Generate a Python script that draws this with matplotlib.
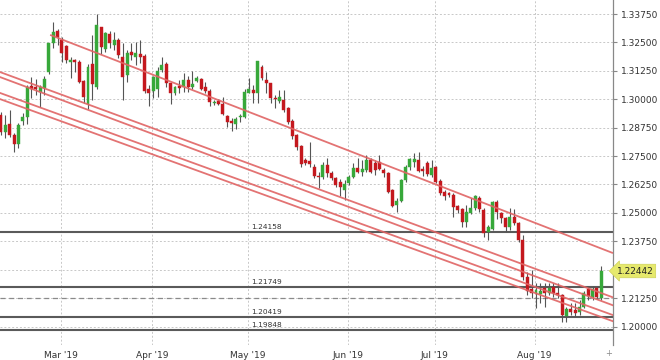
import numpy as np
import pandas as pd
import matplotlib
matplotlib.use("Agg")
import matplotlib.pyplot as plt

# daily GBP/USD candles, 11 Feb - 22 Aug 2019
dates = pd.bdate_range("2019-02-11", "2019-08-22")

opens = [1.2931, 1.2856, 1.2891, 1.2843, 1.2803, 1.2904, 1.2922, 1.3058, 1.3054, 1.3032,
         1.3049, 1.3120, 1.3247, 1.3300, 1.3261, 1.3234, 1.3164, 1.3173, 1.3164, 1.3080,
         1.2979, 1.3155, 1.3054, 1.3318, 1.3221, 1.3287, 1.3239, 1.3261, 1.3186, 1.3107,
         1.3208, 1.3186, 1.3199, 1.3190, 1.3045, 1.3036, 1.3045, 1.3129, 1.3155, 1.3071,
         1.3027, 1.3058, 1.3054, 1.3085, 1.3054, 1.3080, 1.3089, 1.3054, 1.3036, 1.2983,
         1.2992, 1.2979, 1.2926, 1.2904, 1.2891, 1.2922, 1.2922, 1.3027, 1.3041, 1.3027,
         1.3142, 1.3085, 1.3071, 1.3005, 1.2992, 1.2997, 1.2961, 1.2904, 1.2842, 1.2794,
         1.2733, 1.2728, 1.2702, 1.2662, 1.2658, 1.2711, 1.2675, 1.2653, 1.2636, 1.2601,
         1.2631, 1.2658, 1.2697, 1.2680, 1.2689, 1.2733, 1.2719, 1.2724, 1.2689, 1.2675,
         1.2601, 1.2535, 1.2552, 1.2645, 1.2702, 1.2724, 1.2733, 1.2693, 1.2719, 1.2667,
         1.2702, 1.2640, 1.2592, 1.2587, 1.2579, 1.2530, 1.2517, 1.2460, 1.2499, 1.2521,
         1.2565, 1.2513, 1.2416, 1.2429, 1.2548, 1.2499, 1.2477, 1.2438, 1.2482, 1.2455,
         1.2381, 1.2218, 1.2165, 1.2147, 1.2143, 1.2169, 1.2147, 1.2174, 1.2147, 1.2139,
         1.2046, 1.2077, 1.2073, 1.2064, 1.2086, 1.2165, 1.2130, 1.2169, 1.2125]
highs = [1.2944, 1.2931, 1.2953, 1.2851, 1.2895, 1.2939, 1.3063, 1.3098, 1.3089, 1.3063,
         1.3102, 1.3247, 1.3340, 1.3309, 1.3274, 1.3239, 1.3186, 1.3177, 1.3173, 1.3085,
         1.3155, 1.3283, 1.3375, 1.3318, 1.3296, 1.3300, 1.3296, 1.3269, 1.3247, 1.3217,
         1.3247, 1.3252, 1.3261, 1.3199, 1.3063, 1.3102, 1.3142, 1.3186, 1.3164, 1.3071,
         1.3058, 1.3085, 1.3115, 1.3102, 1.3124, 1.3102, 1.3093, 1.3076, 1.3045, 1.2997,
         1.3001, 1.3010, 1.2931, 1.2917, 1.2922, 1.2935, 1.3045, 1.3093, 1.3063, 1.3168,
         1.3151, 1.3120, 1.3071, 1.3019, 1.3041, 1.3041, 1.2966, 1.2913, 1.2847, 1.2799,
         1.2741, 1.2812, 1.2715, 1.2680, 1.2724, 1.2741, 1.2684, 1.2658, 1.2649, 1.2645,
         1.2667, 1.2719, 1.2741, 1.2733, 1.2755, 1.2741, 1.2733, 1.2755, 1.2697, 1.2680,
         1.2605, 1.2565, 1.2649, 1.2711, 1.2741, 1.2763, 1.2768, 1.2706, 1.2728, 1.2733,
         1.2706, 1.2649, 1.2601, 1.2592, 1.2587, 1.2535, 1.2521, 1.2535, 1.2565, 1.2579,
         1.2574, 1.2521, 1.2447, 1.2552, 1.2557, 1.2504, 1.2482, 1.2521, 1.2517, 1.2460,
         1.2403, 1.2240, 1.2249, 1.2191, 1.2191, 1.2191, 1.2191, 1.2191, 1.2191, 1.2143,
         1.2086, 1.2103, 1.2103, 1.2117, 1.2156, 1.2178, 1.2178, 1.2174, 1.2266]
lows = [1.2843, 1.2829, 1.2834, 1.2768, 1.2785, 1.2887, 1.2891, 1.3005, 1.3019, 1.2966,
        1.3019, 1.3111, 1.3225, 1.3239, 1.3164, 1.3159, 1.3093, 1.3120, 1.3071, 1.2983,
        1.2957, 1.2997, 1.3045, 1.3199, 1.3208, 1.3225, 1.3217, 1.3181, 1.2997, 1.3076,
        1.3173, 1.3151, 1.3159, 1.3027, 1.2970, 1.3005, 1.3010, 1.3120, 1.3054, 1.2979,
        1.3018, 1.3027, 1.3032, 1.3032, 1.3045, 1.3076, 1.3041, 1.3027, 1.2970, 1.2975,
        1.2975, 1.2931, 1.2878, 1.2860, 1.2869, 1.2900, 1.2917, 1.3027, 1.2983, 1.2983,
        1.3085, 1.3027, 1.2983, 1.2961, 1.2983, 1.2944, 1.2891, 1.2825, 1.2777, 1.2702,
        1.2711, 1.2702, 1.2653, 1.2609, 1.2649, 1.2658, 1.2645, 1.2614, 1.2574, 1.2557,
        1.2623, 1.2653, 1.2675, 1.2662, 1.2680, 1.2675, 1.2667, 1.2689, 1.2658, 1.2587,
        1.2526, 1.2504, 1.2548, 1.2636, 1.2689, 1.2702, 1.2680, 1.2662, 1.2662, 1.2658,
        1.2631, 1.2579, 1.2557, 1.2570, 1.2482, 1.2499, 1.2438, 1.2438, 1.2495, 1.2513,
        1.2504, 1.2394, 1.2381, 1.2425, 1.2473, 1.2455, 1.2416, 1.2425, 1.2447, 1.2372,
        1.2205, 1.2139, 1.2125, 1.2081, 1.2103, 1.2086, 1.2139, 1.2130, 1.2125, 1.2020,
        1.2020, 1.2051, 1.2042, 1.2051, 1.2081, 1.2117, 1.2117, 1.2121, 1.2117]
closes = [1.2856, 1.2887, 1.2843, 1.2803, 1.2887, 1.2922, 1.3054, 1.3045, 1.3045, 1.3054,
          1.3089, 1.3247, 1.3296, 1.3274, 1.3203, 1.3173, 1.3173, 1.3164, 1.3076, 1.3010,
          1.3142, 1.3067, 1.3327, 1.3230, 1.3291, 1.3247, 1.3261, 1.3195, 1.3098, 1.3203,
          1.3195, 1.3203, 1.3186, 1.3036, 1.3027, 1.3098, 1.3124, 1.3151, 1.3071, 1.3027,
          1.3054, 1.3049, 1.3085, 1.3054, 1.3067, 1.3093, 1.3045, 1.3036, 1.2988, 1.2988,
          1.2979, 1.2935, 1.2900, 1.2895, 1.2913, 1.2926, 1.3032, 1.3045, 1.3027, 1.3168,
          1.3093, 1.3071, 1.3005, 1.3001, 1.3010, 1.2953, 1.2900, 1.2838, 1.2790, 1.2715,
          1.2719, 1.2715, 1.2662, 1.2658, 1.2711, 1.2675, 1.2653, 1.2623, 1.2614, 1.2627,
          1.2658, 1.2697, 1.2680, 1.2693, 1.2733, 1.2680, 1.2689, 1.2693, 1.2675, 1.2592,
          1.2530, 1.2552, 1.2645, 1.2702, 1.2737, 1.2737, 1.2684, 1.2684, 1.2671, 1.2697,
          1.2636, 1.2587, 1.2574, 1.2579, 1.2526, 1.2513, 1.2460, 1.2504, 1.2521, 1.2574,
          1.2517, 1.2411, 1.2438, 1.2548, 1.2504, 1.2477, 1.2438, 1.2482, 1.2455, 1.2381,
          1.2218, 1.2156, 1.2147, 1.2160, 1.2156, 1.2147, 1.2169, 1.2147, 1.2139, 1.2051,
          1.2077, 1.2064, 1.2059, 1.2086, 1.2147, 1.2134, 1.2165, 1.2130, 1.22442]

# horizontal levels and dashed reference line
levels = [1.24158, 1.21749, 1.20419, 1.19848]
dashed_level = 1.2125
# trend lines: (start index, start price, end index, end price)
trend_lines = [
    (11.3, 1.3283, 140.7, 1.2323),
    (-1, 1.3125, 141, 1.2126),
    (-1, 1.3103, 141, 1.2091),
    (-1, 1.3033, 141, 1.2048),
    (-1, 1.3006, 141, 1.2021),
]

o = np.array(opens)
h = np.array(highs)
l = np.array(lows)
c = np.array(closes)
x = np.arange(len(dates))

fig = plt.figure(figsize=(6.6, 3.6), dpi=100)
ax = fig.add_axes([0, 15 / 360, 613 / 660, 345 / 360])

up = c >= o
col = np.where(up, "#37a83a", "#c4181e")
ax.vlines(x, l, h, color="#555555", lw=0.8, zorder=3)
small = np.abs(c - o) < 0.0002
body = np.where(small, 0.0002, c - o)
ax.bar(x, body, bottom=np.where(small, o - 0.0001, o),
       width=0.68, color=col, edgecolor=col, lw=0.3, zorder=4)

for lv in levels:
    ax.axhline(lv, color="#5a5a5a", lw=1.5, zorder=2)
    ax.text(57.5, lv + 0.0009, f"{lv:.5f}", fontsize=5.3, color="#333333",
            va="bottom", ha="left", zorder=5)
ax.axhline(dashed_level, color="#8a8a8a", lw=0.9, ls=(0, (4, 3)), zorder=2)

for x0, y0, x1, y1 in trend_lines:
    ax.plot([x0, x1], [y0, y1], color="#e06464", lw=1.3, alpha=0.9, zorder=5,
            solid_capstyle="butt")

ax.set_xlim(-0.23, 140.7)
ax.set_ylim(1.19186, 1.34366)

# month ticks
month_idx = []
month_lab = []
for m in range(3, 9):
    i = int(np.argmax((dates.month == m)))
    month_idx.append(i - 0.3)
    month_lab.append(dates[i].strftime("%b '%y"))
ax.set_xticks(month_idx)
ax.set_xticklabels(month_lab)

yt = np.arange(1.2, 1.3376, 0.0125)
ax.set_yticks(yt)
ax.set_yticklabels(["" if abs(v - 1.225) < 1e-6 else f"{v:.5f}" for v in yt])
ax.yaxis.tick_right()
ax.tick_params(axis="y", length=3, color="#888888", labelsize=6.5,
               labelcolor="#333333", pad=3)
ax.tick_params(axis="x", length=0, labelsize=6.5, labelcolor="#333333", pad=4)
ax.grid(True, color="#c8c8c8", lw=0.7, ls=(0, (2, 2)))
ax.set_axisbelow(True)
for s in ["top", "left", "bottom"]:
    ax.spines[s].set_visible(False)
ax.spines["right"].set_color("#888888")
ax.spines["right"].set_linewidth(0.9)

ax.text(1.006, c[-1], f"{c[-1]:.5f}", transform=ax.get_yaxis_transform(),
        va="center", ha="left", fontsize=6.5, color="#222222", zorder=10,
        clip_on=False,
        bbox=dict(boxstyle="larrow,pad=0.25", fc="#e6e96c", ec="#cfd25a", lw=0.5))

fig.text(609 / 660, 1 - 354 / 360, "+", fontsize=6, color="#888888",
         ha="center", va="center")

fig.savefig("out.png", dpi=100, facecolor="white")
